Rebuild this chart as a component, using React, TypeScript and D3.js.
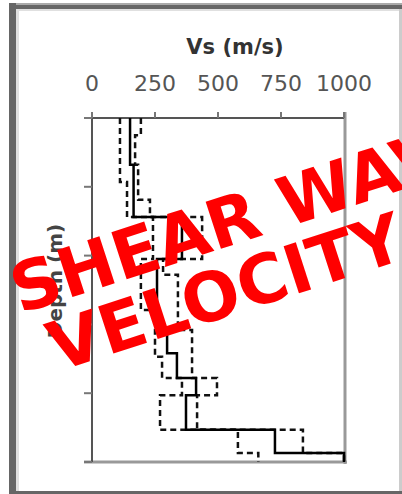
import React from "react";
import * as d3 from "d3";

const W = 402;
const H = 494;

const xTicks = [0, 250, 500, 750, 1000];
const xTickLabels = ["0", "250", "500", "750", "1000"];
const yTicks = [0, 10, 20, 30, 40, 50];

const medianDepths = [0, 6.8, 14.4, 20.5, 30.8, 34.2, 37.8, 40.3, 45.3, 48.7];
const medianVs = [151, 165, 357, 258, 298, 337, 413, 373, 726, 1000];

const lowerDepths = [0, 9.3, 14.4, 20.5, 27.9, 34.7, 37.8, 40.3, 45.3, 48.7];
const lowerVs = [111, 139, 242, 194, 250, 278, 357, 270, 579, 660];

const upperDepths = [0, 2.5, 6.8, 11.9, 14.4, 20.5, 22.8, 30.8, 37.8, 40.3, 45.3, 48.7];
const upperVs = [194, 171, 183, 230, 437, 282, 341, 397, 496, 417, 837, 1000];

const maxDepth = 50;

const x = d3.scaleLinear().domain([0, 1000]).range([92, 344]);
const y = d3.scaleLinear().domain([0, maxDepth]).range([118, 462]);

function stepPath(depths: number[], vs: number[]): string {
  const pts: [number, number][] = [];
  depths.forEach((d, i) => {
    const bottom = i + 1 < depths.length ? depths[i + 1] : maxDepth;
    pts.push([vs[i], d]);
    pts.push([vs[i], bottom]);
  });
  const line = d3
    .line<[number, number]>()
    .x((p) => x(p[0]))
    .y((p) => y(p[1]));
  return line(pts) || "";
}

export default function App() {
  const font = "'DejaVu Sans', sans-serif";
  return (
    <svg
      width={W}
      height={H}
      style={{ position: "fixed", left: 0, top: 0, background: "#fff" }}
    >
      {/* outer frame */}
      <rect x={9} y={3} width={W - 9} height={2} fill="#aaa" />
      <rect x={9} y={5} width={W - 9} height={4} fill="#666" />
      <rect x={9} y={3} width={7} height={H - 3} fill="#666" />
      <rect x={16} y={9} width={3} height={H - 12} fill="#e0e0e0" />
      <rect x={16} y={9} width={W - 16} height={2} fill="#e0e0e0" />
      <rect x={9} y={491} width={W - 9} height={3} fill="#666" />
      <rect x={399} y={9} width={3} height={482} fill="#ccc" />

      {/* plot borders */}
      <line x1={x(1000) + 1} x2={x(1000) + 1} y1={112} y2={464} stroke="#999" strokeWidth={3} />
      <line x1={84} x2={347} y1={y(maxDepth)} y2={y(maxDepth)} stroke="#999" strokeWidth={3} />
      <line x1={84} x2={x(1000)} y1={y(0)} y2={y(0)} stroke="#555" strokeWidth={2} />
      <line x1={x(0)} x2={x(0)} y1={112} y2={y(maxDepth)} stroke="#555" strokeWidth={2} />

      {/* x ticks */}
      {xTicks.map((t, i) => (
        <g key={"xt" + i}>
          <line x1={x(t)} x2={x(t)} y1={112} y2={y(0)} stroke="#777" strokeWidth={2} />
          <text
            x={x(t)}
            y={91}
            textAnchor="middle"
            fontFamily={font}
            fontSize={22}
            fill="#555"
          >
            {xTickLabels[i]}
          </text>
        </g>
      ))}

      {/* y ticks */}
      {yTicks.map((t, i) => (
        <line key={"yt" + i} x1={84} x2={x(0)} y1={y(t)} y2={y(t)} stroke="#777" strokeWidth={2} />
      ))}

      {/* titles */}
      <text x={235} y={54} textAnchor="middle" fontFamily={font} fontWeight="bold" fontSize={21} fill="#333">
        Vs (m/s)
      </text>
      <text
        transform={`translate(62,281) rotate(-90)`}
        textAnchor="middle"
        fontFamily={font}
        fontWeight="bold"
        fontSize={20}
        fill="#444"
      >
        Depth (m)
      </text>

      {/* profiles */}
      <path d={stepPath(lowerDepths, lowerVs)} fill="none" stroke="#111" strokeWidth={2.5} strokeDasharray="6,4" />
      <path d={stepPath(upperDepths, upperVs)} fill="none" stroke="#111" strokeWidth={2.5} strokeDasharray="6,4" />
      <path d={stepPath(medianDepths, medianVs)} fill="none" stroke="#000" strokeWidth={2.5} />

      {/* watermark */}
      <text
        transform="translate(250,213) rotate(-18)"
        y={25}
        textAnchor="middle"
        fontFamily={font}
        fontWeight="bold"
        fontSize={68}
        fill="#ff0000"
      >
        SHEAR WAVE
      </text>
      <text
        transform="translate(225,291) rotate(-18)"
        y={25}
        textAnchor="middle"
        fontFamily={font}
        fontWeight="bold"
        fontSize={68}
        fill="#ff0000"
      >
        VELOCITY
      </text>
    </svg>
  );
}
